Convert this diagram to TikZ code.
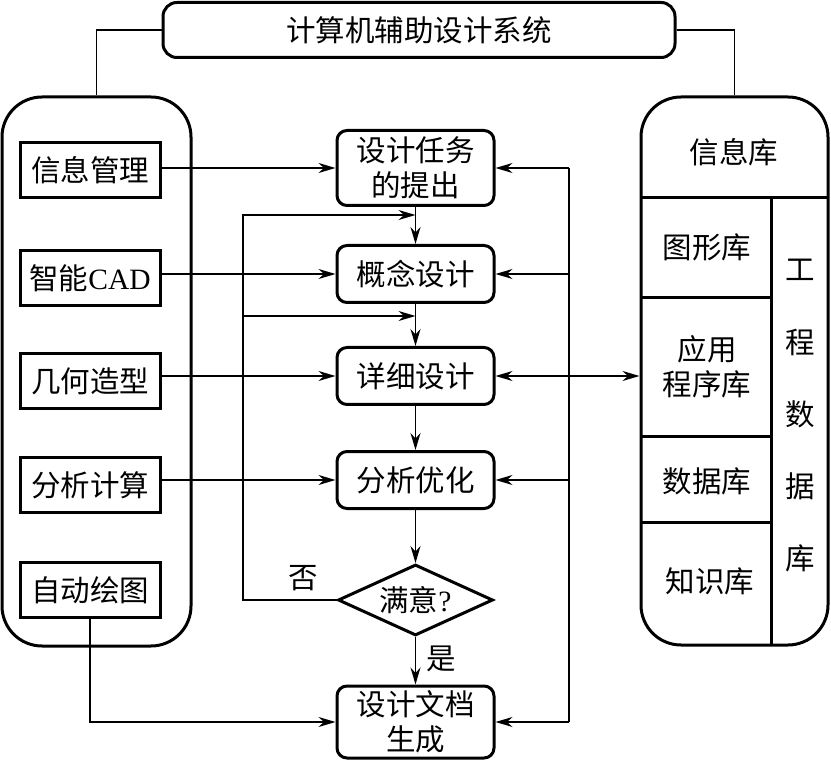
\documentclass[tikz,border=0pt]{standalone}
\usepackage{fontspec}
\setmainfont{Liberation Serif}
\newfontfamily\cjk{Noto Sans CJK SC}
\usetikzlibrary{arrows.meta,shapes.geometric,calc}
\begin{document}
\begin{tikzpicture}[x=1pt,y=-1pt,
  txt/.style={font=\cjk\fontsize{29.5}{35}\selectfont, inner sep=0pt, align=center},
  rbox/.style={txt, draw, line width=3pt, rounded corners=10pt},
  sbox/.style={txt, draw, line width=3pt, minimum width=140pt, minimum height=55pt},
  cbox/.style={rbox, minimum width=157pt, minimum height=57pt},
  big/.style={draw, line width=3pt, rounded corners=40pt, inner sep=0pt},
  conn/.style={line width=1.3pt},
  arr/.style={conn, -{Stealth[length=17pt,width=10pt]}},
  darr/.style={conn, {Stealth[length=17pt,width=10pt]}-{Stealth[length=17pt,width=10pt]}},
  wall/.style={line width=3pt},
]
\fill[white] (0,0) rectangle (831,762);
\useasboundingbox (0,0) rectangle (831,762);

% outer frames
\node[big, minimum width=189pt, minimum height=549pt] (L) at (96.5,371.5) {};
\node[big, minimum width=187pt, minimum height=548pt] (R) at (734.5,371) {};
\node[rbox, minimum width=512pt, minimum height=55pt, rounded corners=14pt] (top) at (419,30) {计算机辅助设计系统};
\draw[conn] (top.west) -| (L.north);
\draw[conn] (top.east) -| (R.north);

% left modules
\node[sbox] (a1) at (90,170) {信息管理};
\node[sbox] (a2) at (90,278) {智能{\rmfamily CAD}};
\node[sbox] (a3) at (90,381) {几何造型};
\node[sbox] (a4) at (90,485) {分析计算};
\node[sbox] (a5) at (90,590) {自动绘图};

% center flow
\node[cbox, minimum height=75pt] (t1) at (415.5,168) {设计任务\\的提出};
\node[cbox] (c2) at (415.5,274) {概念设计};
\node[cbox] (c3) at (415.5,376) {详细设计};
\node[cbox] (c4) at (415.5,480) {分析优化};
\node[txt, draw, diamond, line width=3pt, aspect=2.18, minimum width=155pt, minimum height=71pt] (dia) at (415.5,600) {满意{\rmfamily ?}};
\node[cbox, minimum height=72pt] (doc) at (415.5,722) {设计文档\\生成};
\node[txt] (no) at (303,578) {否};
\node[txt] (yes) at (441,659) {是};

\draw[arr] (t1.south) -- (c2.north);
\draw[arr] (c2.south) -- (c3.north);
\draw[arr] (c3.south) -- (c4.north);
\draw[arr] (c4.south) -- (dia.north);
\draw[arr] (dia.south) -- (doc.north);

% left inputs
\draw[arr] (a1.east |- t1) -- (t1.west);
\draw[arr] (a2.east |- c2) -- (c2.west);
\draw[arr] (a3.east |- c3) -- (c3.west);
\draw[arr] (a4.east |- c4) -- (c4.west);
\draw[arr] (a5.south) |- (doc.west);

% feedback
\coordinate (fb) at (243,600);
\coordinate (j1) at ($(t1.south)+(0,8)$);
\coordinate (j2) at ($(c2.south)+(0,12)$);
\draw[arr] (dia.west) -| (fb |- j1) -- (j1);
\draw[arr] (fb |- j2) -- (j2);

% right bus
\coordinate (bus) at (569,0);
\draw[conn] (bus |- t1) -- (bus |- doc);
\draw[arr] (bus |- t1) -- (t1.east);
\draw[arr] (bus |- c2) -- (c2.east);
\draw[arr] (bus |- c4) -- (c4.east);
\draw[arr] (bus |- doc) -- (doc.east);
\draw[darr] (c3.east) -- (c3.east -| R.west);

% right database internals
\draw[wall] (641,198) -- (828,198);
\draw[wall] (771,198) -- (771,645);
\draw[wall] (641,298) -- (771,298);
\draw[wall] (641,436) -- (771,436);
\draw[wall] (641,522) -- (771,522);
\node[txt] (r0) at (734,152) {信息库};
\node[txt] (r1) at (707,247) {图形库};
\node[txt] (r2) at (707,367) {应用\\程序库};
\node[txt] (r3) at (707,481) {数据库};
\node[txt] (r4) at (710,581) {知识库};
\node[txt] (g1) at (800,270) {工};
\node[txt] (g2) at (800,342) {程};
\node[txt] (g3) at (800,414) {数};
\node[txt] (g4) at (800,486) {据};
\node[txt] (g5) at (800,558) {库};
\end{tikzpicture}
\end{document}
